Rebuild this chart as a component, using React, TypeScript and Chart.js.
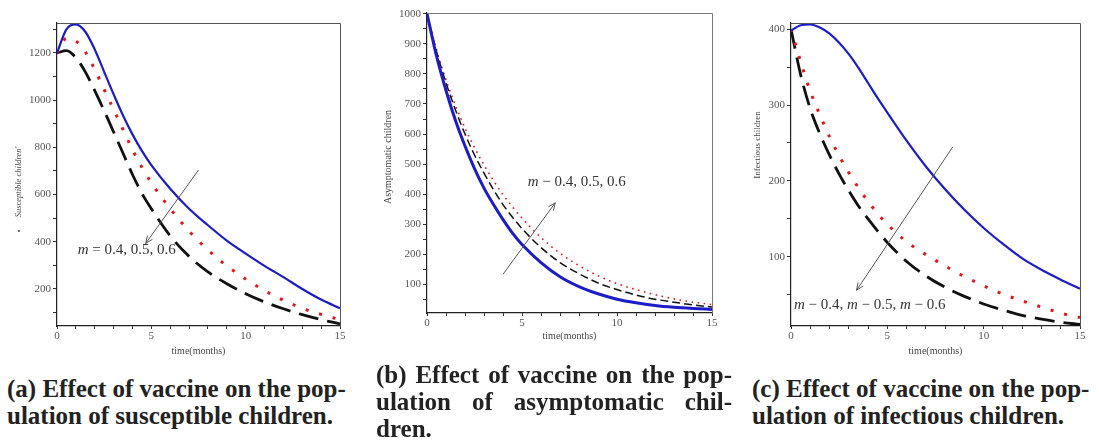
import React, { useEffect, useRef } from 'react';
import { Chart, registerables } from 'chart.js';

Chart.register(...registerables);

// ---------- data ----------
const months = [0, 0.5, 1, 1.5, 2, 2.5, 3, 3.5, 4, 4.5, 5, 6, 7, 8, 9, 10, 11, 12, 13, 14, 15];

// (a) susceptible children
const susceptibleM04 = [1200, 1300, 1321, 1290, 1215, 1120, 1025, 935, 855, 785, 725, 625, 540, 470, 405, 350, 298, 250, 200, 155, 118];
const susceptibleM05 = [1200, 1262, 1250, 1205, 1130, 1045, 960, 875, 790, 715, 650, 540, 445, 365, 298, 242, 193, 152, 118, 92, 70];
const susceptibleM06 = [1200, 1210, 1180, 1120, 1040, 955, 865, 775, 685, 605, 540, 425, 338, 272, 222, 180, 145, 116, 91, 70, 52];

// (b) asymptomatic children
const asymptomaticBlue = [1000, 860, 745, 645, 560, 485, 420, 365, 315, 270, 232, 172, 125, 92, 68, 50, 38, 29, 23, 19, 16];
const asymptomaticBlack = [1000, 875, 770, 680, 600, 530, 470, 415, 365, 323, 285, 222, 172, 135, 104, 82, 64, 50, 40, 31, 24];
const asymptomaticRed = [1000, 880, 780, 695, 620, 555, 497, 445, 398, 357, 320, 255, 203, 162, 128, 102, 82, 65, 51, 40, 32];

// (c) infectious children
const infectiousM04 = [398, 405, 406, 402, 394, 382, 367, 349, 329, 309, 290, 253, 219, 189, 162, 138, 117, 98, 83, 70, 58];
const infectiousM05 = [400, 357, 318, 287, 258, 233, 211, 191, 173, 157, 143, 120, 103, 88, 74, 62, 51, 42, 34, 26, 20];
const infectiousM06 = [400, 340, 295, 262, 234, 209, 187, 167, 150, 134, 119, 94, 75, 60, 48, 38, 30, 23, 18, 14, 11];

// ticks
const xTickValues = [0, 1, 2, 3, 4, 5, 6, 7, 8, 9, 10, 11, 12, 13, 14, 15];
const xTickLabels = [0, 5, 10, 15];
const yTicksA = [100, 200, 300, 400, 500, 600, 700, 800, 900, 1000, 1100, 1200, 1300];
const yLabelsA = [200, 400, 600, 800, 1000, 1200];
const yTicksB = [50, 100, 150, 200, 250, 300, 350, 400, 450, 500, 550, 600, 650, 700, 750, 800, 850, 900, 950, 1000];
const yLabelsB = [100, 200, 300, 400, 500, 600, 700, 800, 900, 1000];
const yTicksC = [50, 100, 150, 200, 250, 300, 350, 400];
const yLabelsC = [100, 200, 300, 400];

const captionA = ['(a) Effect of vaccine on the pop-', 'ulation of susceptible children.'];
const captionB = ['(b) Effect of vaccine on the pop-', 'ulation of asymptomatic chil-', 'dren.'];
const captionC = ['(c) Effect of vaccine on the pop-', 'ulation of infectious children.'];

// ---------- panel specs ----------
type Series = { label: string; data: number[]; color: string; width: number; dash: number[] };
type Panel = {
  left: number; width: number; height: number;
  pad: { left: number; top: number; right: number; bottom: number };
  yAxisWidth: number; xAxisHeight: number;
  yMin: number; yMax: number; yTicks: number[]; yLabels: number[];
  series: Series[];
  yTitle: string; yTitleFont: string; yTitleX: number; yTitleY: number;
  bullet?: [number, number];
  xTitleY: number;
  arrowFrom: [number, number]; arrowTo: [number, number];
  annText: string; annAt: [number, number];
  frameColor: string;
};

const BLUE = '#1c1cc8';
const RED = '#e01818';
const BLACK = '#111111';

const panels: Panel[] = [
  {
    left: 0, width: 370, height: 365,
    pad: { left: 0, top: 23, right: 30, bottom: 19 },
    yAxisWidth: 57, xAxisHeight: 20,
    yMin: 43, yMax: 1327, yTicks: yTicksA, yLabels: yLabelsA,
    series: [
      { label: 'm = 0.4', data: susceptibleM04, color: BLUE, width: 2.2, dash: [] },
      { label: 'm = 0.5', data: susceptibleM05, color: RED, width: 3, dash: [3, 11] },
      { label: 'm = 0.6', data: susceptibleM06, color: BLACK, width: 2.8, dash: [20, 9] },
    ],
    yTitle: "Susceptible children'", yTitleFont: 'italic 8.5px "Liberation Serif"', yTitleX: 19, yTitleY: 182,
    bullet: [19, 232],
    xTitleY: 351,
    arrowFrom: [7.5, 704], arrowTo: [4.7, 393],
    annText: 'm = 0.4, 0.5, 0.6', annAt: [1.1, 365],
    frameColor: '#555',
  },
  {
    left: 370, width: 370, height: 365,
    pad: { left: 0, top: 13, right: 28, bottom: 32 },
    yAxisWidth: 57, xAxisHeight: 20,
    yMin: 4, yMax: 1003, yTicks: yTicksB, yLabels: yLabelsB,
    series: [
      { label: 'blue', data: asymptomaticBlue, color: BLUE, width: 3, dash: [] },
      { label: 'black', data: asymptomaticBlack, color: BLACK, width: 1.5, dash: [8, 4] },
      { label: 'red', data: asymptomaticRed, color: RED, width: 1.6, dash: [1.6, 4.5] },
    ],
    yTitle: 'Asymptomatic children', yTitleFont: '10px "Liberation Serif"', yTitleX: 18, yTitleY: 157,
    xTitleY: 336,
    arrowFrom: [4.0, 133], arrowTo: [6.75, 371],
    annText: 'm − 0.4, 0.5, 0.6', annAt: [5.3, 440],
    frameColor: '#777',
  },
  {
    left: 740, width: 359, height: 365,
    pad: { left: 0, top: 23, right: 19, bottom: 19 },
    yAxisWidth: 51, xAxisHeight: 20,
    yMin: 9, yMax: 408, yTicks: yTicksC, yLabels: yLabelsC,
    series: [
      { label: 'm = 0.4', data: infectiousM04, color: BLUE, width: 2.2, dash: [] },
      { label: 'm = 0.5', data: infectiousM05, color: RED, width: 3, dash: [3, 11] },
      { label: 'm = 0.6', data: infectiousM06, color: BLACK, width: 2.8, dash: [20, 9] },
    ],
    yTitle: 'Infectious children', yTitleFont: '9px "Liberation Serif"', yTitleX: 18, yTitleY: 145,
    xTitleY: 351,
    arrowFrom: [8.4, 245], arrowTo: [3.4, 56],
    annText: 'm − 0.4, m − 0.5, m − 0.6', annAt: [0.15, 37],
    frameColor: '#555',
  },
];

const tickFont = { family: '"Liberation Serif", serif', size: 11 };
const tickColor = '#555';

function drawMixed(ctx: CanvasRenderingContext2D, text: string, x: number, y: number, size: number) {
  const parts = text.split(/(m)/);
  let cx = x;
  for (const p of parts) {
    if (!p) continue;
    ctx.font = (p === 'm' ? 'italic ' : '') + size + 'px "Liberation Serif"';
    ctx.fillText(p, cx, y);
    cx += ctx.measureText(p).width;
  }
}

function makeDecor(p: Panel) {
  return {
    id: 'decor',
    afterDraw(chart: any) {
      const { ctx, chartArea: a, scales } = chart;
      const xs = scales.x;
      const ys = scales.y;
      ctx.save();
      // top and right frame
      ctx.strokeStyle = p.frameColor;
      ctx.lineWidth = 1;
      ctx.setLineDash([]);
      ctx.beginPath();
      ctx.moveTo(a.left, Math.round(a.top) + 0.5);
      ctx.lineTo(Math.round(a.right) + 0.5, Math.round(a.top) + 0.5);
      ctx.lineTo(Math.round(a.right) + 0.5, a.bottom);
      ctx.stroke();

      // arrow
      const x1 = xs.getPixelForValue(p.arrowFrom[0]);
      const y1 = ys.getPixelForValue(p.arrowFrom[1]);
      const x2 = xs.getPixelForValue(p.arrowTo[0]);
      const y2 = ys.getPixelForValue(p.arrowTo[1]);
      ctx.strokeStyle = '#555';
      ctx.lineWidth = 1;
      ctx.beginPath();
      ctx.moveTo(x1, y1);
      ctx.lineTo(x2, y2);
      const ang = Math.atan2(y2 - y1, x2 - x1);
      const hl = 8;
      ctx.moveTo(x2 - hl * Math.cos(ang - 0.4), y2 - hl * Math.sin(ang - 0.4));
      ctx.lineTo(x2, y2);
      ctx.lineTo(x2 - hl * Math.cos(ang + 0.4), y2 - hl * Math.sin(ang + 0.4));
      ctx.stroke();

      // annotation text
      ctx.fillStyle = '#333';
      ctx.textBaseline = 'middle';
      ctx.textAlign = 'left';
      drawMixed(ctx, p.annText, xs.getPixelForValue(p.annAt[0]), ys.getPixelForValue(p.annAt[1]), 15);

      // y title
      ctx.fillStyle = '#444';
      ctx.font = p.yTitleFont;
      ctx.textAlign = 'center';
      ctx.textBaseline = 'middle';
      ctx.save();
      ctx.translate(p.yTitleX, p.yTitleY);
      ctx.rotate(-Math.PI / 2);
      ctx.fillText(p.yTitle, 0, 0);
      ctx.restore();
      if (p.bullet) {
        ctx.font = '8px "Liberation Serif"';
        ctx.fillText('•', p.bullet[0], p.bullet[1]);
      }

      // x title
      ctx.font = '10px "Liberation Serif"';
      ctx.fillStyle = '#444';
      ctx.fillText('time(months)', (a.left + a.right) / 2, p.xTitleY);
      ctx.restore();
    },
  };
}

function PanelChart({ p }: { p: Panel }) {
  const ref = useRef<HTMLCanvasElement>(null);
  useEffect(() => {
    if (!ref.current) return;
    const chart = new Chart(ref.current, {
      type: 'line',
      data: {
        datasets: p.series.map((s) => ({
          label: s.label,
          data: months.map((t, i) => ({ x: t, y: s.data[i] })),
          borderColor: s.color,
          borderWidth: s.width,
          borderDash: s.dash,
          borderCapStyle: 'butt',
          pointRadius: 0,
          fill: false,
          cubicInterpolationMode: 'monotone',
        })),
      },
      options: {
        animation: false,
        responsive: false,
        maintainAspectRatio: false,
        layout: { padding: p.pad },
        plugins: { legend: { display: false }, tooltip: { enabled: false } },
        scales: {
          x: {
            type: 'linear',
            min: 0,
            max: 15,
            afterFit: (s: any) => { s.height = p.xAxisHeight; },
            afterBuildTicks: (s: any) => { s.ticks = xTickValues.map((v) => ({ value: v })); },
            ticks: {
              autoSkip: false,
              maxRotation: 0,
              padding: 1,
              font: tickFont,
              color: tickColor,
              callback: (v: any) => (xTickLabels.includes(Number(v)) ? String(v) : ''),
            },
            grid: { drawOnChartArea: false, drawTicks: true, tickLength: 3, color: '#333' },
            border: { display: true, color: '#222', width: 1.2 },
          },
          y: {
            type: 'linear',
            min: p.yMin,
            max: p.yMax,
            afterFit: (s: any) => { s.width = p.yAxisWidth; },
            afterBuildTicks: (s: any) => { s.ticks = p.yTicks.map((v) => ({ value: v })); },
            ticks: {
              autoSkip: false,
              padding: 2,
              font: tickFont,
              color: tickColor,
              callback: (v: any) => (p.yLabels.includes(Number(v)) ? String(v) : ''),
            },
            grid: { drawOnChartArea: false, drawTicks: true, tickLength: 4, color: '#333' },
            border: { display: true, color: '#222', width: 1.2 },
          },
        },
      },
      plugins: [makeDecor(p)],
    } as any);
    return () => chart.destroy();
  }, [p]);
  return (
    <canvas
      ref={ref}
      width={p.width}
      height={p.height}
      style={{ position: 'absolute', left: p.left, top: 0, width: p.width, height: p.height }}
    />
  );
}

function Caption({ lines, left, top, width }: { lines: string[]; left: number; top: number; width: number }) {
  return (
    <div
      style={{
        position: 'absolute',
        left,
        top,
        width,
        fontFamily: '"Liberation Serif", serif',
        fontWeight: 'bold',
        fontSize: 25,
        lineHeight: '27px',
        color: '#222',
      }}
    >
      {lines.map((l, i) => (
        <div
          key={i}
          style={{
            whiteSpace: 'nowrap',
            textAlign: i < lines.length - 1 ? 'justify' : 'left',
            textAlignLast: i < lines.length - 1 ? 'justify' : 'left',
          }}
        >
          {l}
        </div>
      ))}
    </div>
  );
}

export default function App() {
  return (
    <div style={{ position: 'absolute', left: 0, top: 0, width: 1099, height: 445, background: '#fff', overflow: 'hidden' }}>
      {panels.map((p, i) => (
        <PanelChart key={i} p={p} />
      ))}
      <Caption lines={captionA} left={7} top={375} width={338} />
      <Caption lines={captionB} left={376} top={361} width={356} />
      <Caption lines={captionC} left={752} top={375} width={336} />
    </div>
  );
}
